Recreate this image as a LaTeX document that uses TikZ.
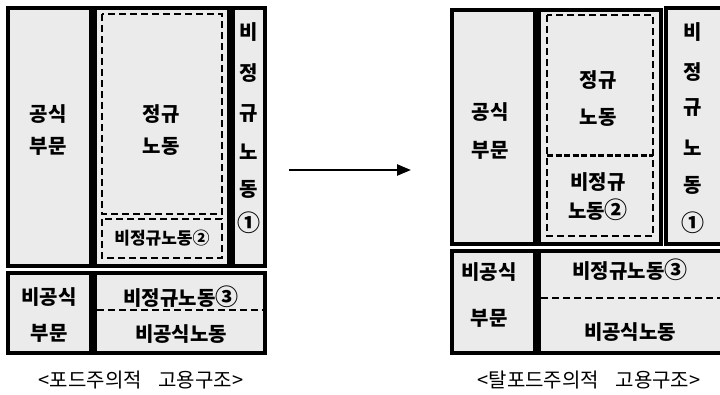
\documentclass[tikz,border=0pt]{standalone}
\usepackage{fontspec}
\setmainfont{Noto Sans CJK KR}
\usetikzlibrary{arrows.meta}
\newcommand{\circnum}[1]{{\fontsize{23}{23}\selectfont #1}}
\begin{document}
\begin{tikzpicture}[x=1pt,y=-1pt,
  box/.style={draw=black, line width=3.2pt, fill=black!8},
  dbox/.style={draw=black, line width=2.4pt, dash pattern=on 7pt off 4pt},
  dsep/.style={draw=black, line width=2.4pt, dash pattern=on 7pt off 4pt},
  dsepb/.style={draw=black, line width=3pt, dash pattern=on 6pt off 2.5pt},
  lbl/.style={font=\fontsize{20}{20}\selectfont\bfseries, inner sep=0pt},
  slbl/.style={font=\fontsize{17}{17}\selectfont\bfseries, inner sep=0pt},
  captxt/.style={font=\fontsize{20}{20}\selectfont, inner sep=0pt},
  arr/.style={line width=2.4pt, -{Triangle[length=14pt,width=11pt]}}]
\useasboundingbox (0,0) rectangle (720,394);
\clip (0,0) rectangle (720,394);

% ---------- left diagram ----------
\draw[box] (8,8) rectangle (91,266);
\draw[box] (95,8) rectangle (229,266);
\draw[box] (233,8) rectangle (265,266);
\draw[box] (8,273) rectangle (91,353);
\draw[box] (95,273) rectangle (265,353);
\draw[dbox] (102,14) rectangle (222,214);
\draw[dbox] (102,219) rectangle (222,258);
\draw[dsep] (97,310) -- (263,310);

\node[lbl] (l1) at (48,114) {공식};
\node[lbl] (l2) at (48,146) {부문};
\node[lbl] (l3) at (161,114) {정규};
\node[lbl] (l4) at (161,146) {노동};
\node[slbl] (l5) at (162,238) {비정규노동②};
\node[lbl] (lv1) at (249,32) {비};
\node[lbl] (lv2) at (249,73) {정};
\node[lbl] (lv3) at (249,114) {규};
\node[lbl] (lv4) at (249,152) {노};
\node[lbl] (lv5) at (249,189) {동};
\node[lbl] (lv6) at (249,223) {\circnum{①}};
\node[lbl] (l6) at (49,297) {비공식};
\node[lbl] (l7) at (49,333) {부문};
\node[lbl] (l8) at (181,297) {비정규노동\circnum{③}};
\node[lbl] (l9) at (181,334) {비공식노동};
\node[captxt] (capl) at (141,380) {<포드주의적\hspace{0.6em} 고용구조>};

% ---------- arrow ----------
\coordinate (aS) at (289,170);
\coordinate (aE) at (411,170);
\draw[arr] (aS) -- (aE);

% ---------- right diagram ----------
\draw[box] (452,10) rectangle (535,244);
\draw[box] (539,10) rectangle (661,244);
\draw[box] (666,8) rectangle (730,244);
\draw[box] (452,251) rectangle (535,353);
\draw[box] (539,251) rectangle (730,353);
\draw[dbox] (547,15) rectangle (653,236);
\draw[dsepb] (547,155) -- (653,155);
\draw[dsep] (541,298) -- (722,298);

\node[lbl] (r1) at (490,112) {공식};
\node[lbl] (r2) at (490,150) {부문};
\node[lbl] (r3) at (598,80) {정규};
\node[lbl] (r4) at (598,117) {노동};
\node[lbl] (r5) at (598,182) {비정규};
\node[lbl] (r6) at (598,210) {노동\circnum{②}};
\node[lbl] (rv1) at (693,32) {비};
\node[lbl] (rv2) at (693,72) {정};
\node[lbl] (rv3) at (693,108) {규};
\node[lbl] (rv4) at (693,148) {노};
\node[lbl] (rv5) at (693,185) {동};
\node[lbl] (rv6) at (693,223) {\circnum{①}};
\node[lbl] (r7) at (489,272) {비공식};
\node[lbl] (r8) at (489,318) {부문};
\node[lbl] (r9) at (630,270) {비정규노동\circnum{③}};
\node[lbl] (r10) at (630,332) {비공식노동};
\node[captxt] (capr) at (589,380) {<탈포드주의적\hspace{0.6em} 고용구조>};
\end{tikzpicture}
\end{document}
